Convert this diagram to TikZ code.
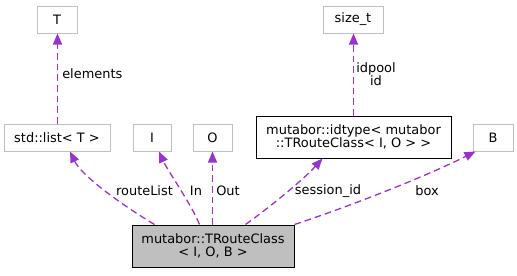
\documentclass[tikz,border=0pt]{standalone}
\usepackage{fontspec}
\setmainfont{DejaVu Sans}
\usepackage{xcolor}
\usepackage{tikz}
\usetikzlibrary{calc,positioning,arrows.meta}
\definecolor{edgepurple}{HTML}{9A32CD}
\definecolor{boxgray}{HTML}{BFBFBF}
\def\px{0.75pt}
\def\rowheight{27}
\tikzset{
  tmplbox/.style={draw=boxgray, fill=white, line width=1*\px, inner sep=0pt,
                  minimum height=\rowheight*\px, align=center},
  classbox/.style={draw=black, line width=1*\px, inner sep=0pt,
                   minimum height=42*\px, align=center},
  usage/.style={draw=edgepurple, line width=1.3*\px, dash pattern=on 5pt off 3pt,
                -{Triangle[length=11*\px, width=9*\px]}},
  edgelabel/.style={inner sep=0pt, align=center},
}

\begin{document}
\begin{tikzpicture}[x=\px, y=-\px, font=\fontsize{9.7}{10}\selectfont]
  \useasboundingbox (0,0) rectangle (517,275);

  % template parameters and members
  \node[tmplbox, minimum width=40*\px] (tT) at (57,19.5) {T};
  \node[tmplbox, minimum width=60*\px] (sizeT) at (353,19.5) {size\_t};
  \node[tmplbox, minimum width=106*\px] (stdList) at (57,137.5) {std::list< T >};
  \node[tmplbox, minimum width=38*\px] (tI) at (152,137.5) {I};
  \node[tmplbox, minimum width=39*\px] (tO) at (212.5,137.5) {O};
  \node[classbox, fill=white, minimum width=195*\px] (idType) at (353.5,137)
       {mutabor::idtype< mutabor\\::TRouteClass< I, O > >};
  \node[tmplbox, minimum width=40*\px] (tB) at (493,137.5) {B};

  % the class itself
  \node[classbox, fill=boxgray, minimum width=162*\px] (routeClass) at (213,246)
       {mutabor::TRouteClass\\< I, O, B >};

  \draw[usage] ($(stdList.north)+(0.5,0)$) -- ($(tT.south)+(0.5,0)$);
  \draw[usage] (idType.north) -- ($(sizeT.south)+(0.5,0)$);

  \draw[usage] ($(routeClass.north west)+(23,0)$)
     .. controls +(-30,-18) and +(12,25) .. ($(stdList.south)+(13,0)$);
  \draw[usage] ($(routeClass.north west)+(68,0)$)
     .. controls +(-8,-20) and +(8,18) .. ($(tI.south)+(7,0)$);
  \draw[usage] (routeClass.north -| tO.south) -- (tO.south);
  \draw[usage] ($(routeClass.north west)+(114,0)$)
     .. controls +(25,-18) and +(-20,22) .. ($(idType.south)+(-31,0)$);
  \draw[usage] (routeClass.north east)
     .. controls +(60,-20) and +(-50,25) .. ($(tB.south west)+(3,0)$);

  \node[edgelabel, anchor=west] (lblElements) at (62,74) {elements};
  \node[edgelabel] (lblIdpool) at (376,74.5) {idpool\\id};
  \node[edgelabel] (lblRouteList) at (144.5,191) {routeList};
  \node[edgelabel] (lblIn) at (196,191) {In};
  \node[edgelabel] (lblOut) at (228,191) {Out};
  \node[edgelabel] (lblSession) at (328,191) {session\_id};
  \node[edgelabel] (lblBox) at (427,191) {box};
\end{tikzpicture}
\end{document}
